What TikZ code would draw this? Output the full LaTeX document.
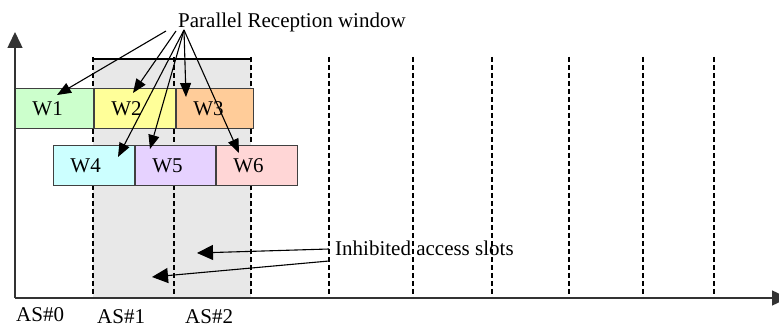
\documentclass[tikz,border=0pt]{standalone}
\usepackage{fontspec}
\setmainfont{Liberation Serif}
\usetikzlibrary{arrows.meta,positioning}

\definecolor{wingreen}{HTML}{CCFFCC}
\definecolor{winyellow}{HTML}{FFFF99}
\definecolor{winorange}{HTML}{FFCC99}
\definecolor{wincyan}{HTML}{CCFFFF}
\definecolor{winlilac}{HTML}{E6D2FF}
\definecolor{winpink}{HTML}{FFD6D6}
\definecolor{slotgray}{HTML}{E8E8E8}

\begin{document}
\begin{tikzpicture}[x=1pt,y=-1pt,>={Triangle[length=14pt,width=11pt]},
  every node/.style={font=\fontsize{21}{24}\selectfont},
  win/.style={draw=black!75,line width=0.9pt,minimum height=40pt,inner xsep=17pt,
    inner ysep=0pt,text width=#1,align=left},
  slot/.style={dash pattern=on 5pt off 3pt,line width=1.2pt},
  axis/.style={line width=1.5pt,draw=black!80,-{Triangle[length=16pt,width=15pt]}},
  pointer/.style={->,line width=1.1pt}]
  \useasboundingbox (0,0) rectangle (779,328);

  % inhibited slots
  \fill[slotgray] (93,59) rectangle (251,298);
  \draw[line width=1.2pt] (93,59) -- (251,59);
  \foreach \sx in {93,174,251,329,413,492,569,643,714}
    \draw[slot] (\sx,57) -- (\sx,298);

  % reception windows
  \node[win=44pt,fill=wingreen,anchor=north west] (w1) at (15,88) {W1};
  \node[win=47pt,fill=winyellow,right=0pt of w1] (w2) {W2};
  \node[win=43pt,fill=winorange,right=0pt of w2] (w3) {W3};
  \node[win=47pt,fill=wincyan,anchor=north west] (w4) at (53,145) {W4};
  \node[win=46pt,fill=winlilac,right=0pt of w4] (w5) {W5};
  \node[win=47pt,fill=winpink,right=0pt of w5] (w6) {W6};

  % axes
  \coordinate (origin) at (15,298);
  \coordinate (yend) at (15,32);
  \coordinate (xend) at (788,298);
  \draw[axis] (origin) -- (yend);
  \draw[axis] (origin) -- (xend);

  % labels
  \node[anchor=base west,inner sep=0pt] (prw) at (178,28) {Parallel Reception window};
  \node[anchor=west,inner sep=0pt] (ias) at (335,248) {Inhibited access slots};
  \node[anchor=base west,inner sep=0pt] (as0) at (16,322) {AS\#0};
  \node[anchor=base west,inner sep=0pt] (as1) at (97,324) {AS\#1};
  \node[anchor=base west,inner sep=0pt] (as2) at (185,324) {AS\#2};

  % pointers to the windows
  \coordinate (p1) at (166,31);
  \coordinate (p2) at (176,31);
  \coordinate (p3) at (184,30);
  \coordinate (t1) at (57,95);
  \coordinate (t2) at (133,93);
  \coordinate (t3) at (186,97);
  \coordinate (t4) at (118,157);
  \coordinate (t5) at (150,149);
  \coordinate (t6) at (239,153);
  \draw[pointer] (p1) -- (t1);
  \draw[pointer] (p2) -- (t2);
  \draw[pointer] (p3) -- (t3);
  \draw[pointer] (p3) -- (t4);
  \draw[pointer] (p3) -- (t5);
  \draw[pointer] (p3) -- (t6);

  % pointers to the inhibited slots
  \coordinate (q1) at (329,249);
  \coordinate (q2) at (329,261);
  \coordinate (s1) at (197,253);
  \coordinate (s2) at (152,277);
  \draw[pointer,>={Triangle[length=16pt,width=15pt]}] (q1) -- (s1);
  \draw[pointer,>={Triangle[length=16pt,width=15pt]}] (q2) -- (s2);
\end{tikzpicture}
\end{document}
